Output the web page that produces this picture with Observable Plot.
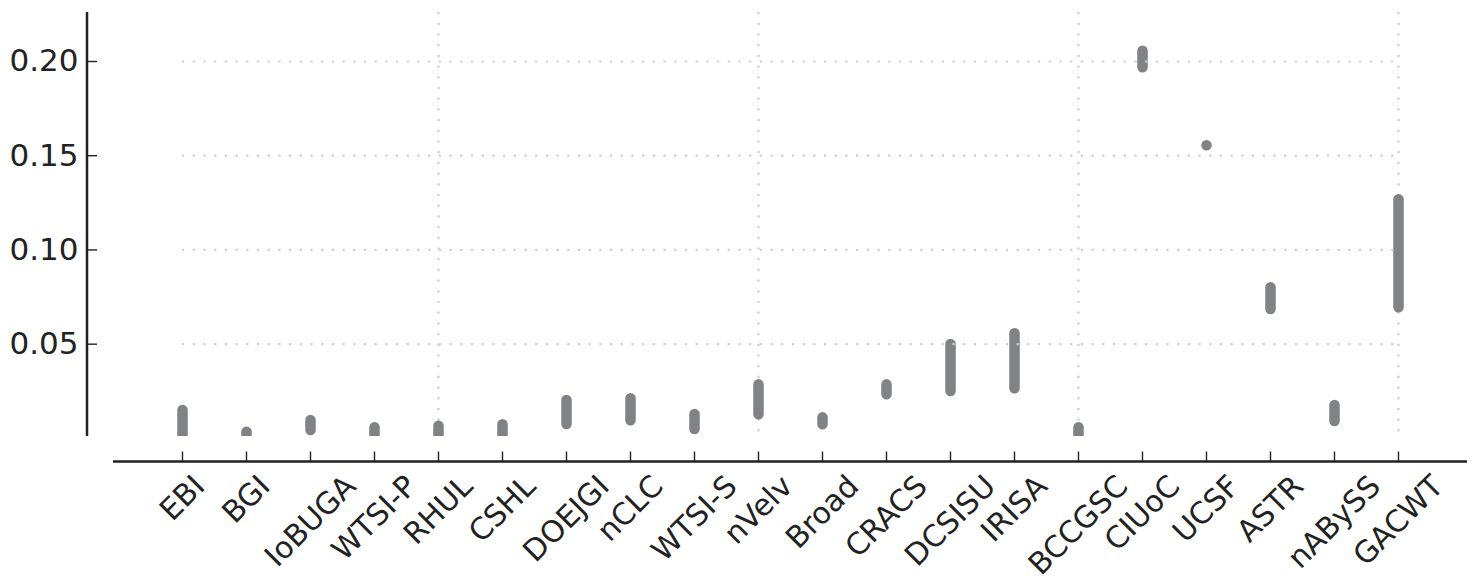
<!DOCTYPE html>
<html>
<head>
<meta charset="utf-8">
<script src="https://cdn.jsdelivr.net/npm/d3@7"></script>
<script src="https://cdn.jsdelivr.net/npm/@observablehq/plot@0.6"></script>
<style>
  html, body { margin: 0; padding: 0; background: #fff; }
</style>
</head>
<body>
<div id="chart"></div>
<script>
// ---- data ----
const teams = ["EBI","BGI","IoBUGA","WTSI-P","RHUL","CSHL","DOEJGI","nCLC","WTSI-S","nVelv","Broad","CRACS","DCSISU","IRISA","BCCGSC","CIUoC","UCSF","ASTR","nABySS","GACWT"];
const lows  = [0.0000,0.0000,0.0042,0.0000,0.0000,0.0000,0.0074,0.0093,0.0047,0.0125,0.0072,0.0231,0.0249,0.0263,0.0000,0.1967,0.1553,0.0684,0.0090,0.0693];
const highs = [0.0148,0.0033,0.0095,0.0056,0.0065,0.0072,0.0201,0.0210,0.0127,0.0284,0.0109,0.0284,0.0498,0.0555,0.0056,0.2055,0.1553,0.0799,0.0175,0.1267];
const yTicks = [0.05, 0.10, 0.15, 0.20];
const xGridTeams = ["RHUL","nVelv","BCCGSC","GACWT"];

const rows = teams.map((t, i) => ({team: t, lo: lows[i], hi: highs[i]}));

// ---- layout ----
const W = 1480, H = 581;
const ML = 113, MR = 13, MT = 12, MB = 145;
const frameW = W - ML - MR, frameH = H - MT - MB;
const ink = "#222222";
const barColor = "#818285";
const gridColor = "#cfcfcf";
const xFont = 30, yFont = 31;
const family = "DejaVu Sans";

const ctx = document.createElement("canvas").getContext("2d");
ctx.font = `${xFont}px "${family}"`;

function axisLines(index, scales, values, dims) {
  const g = d3.create("svg:g").attr("stroke", ink).attr("stroke-width", 2.5).attr("fill", "none");
  g.append("line")
    .attr("x1", dims.marginLeft - 26).attr("x2", dims.marginLeft - 26)
    .attr("y1", dims.marginTop).attr("y2", dims.height - dims.marginBottom);
  g.append("line")
    .attr("x1", dims.marginLeft).attr("x2", dims.width - dims.marginRight)
    .attr("y1", dims.height - dims.marginBottom + 25.5).attr("y2", dims.height - dims.marginBottom + 25.5);
  return g.node();
}

const labelMarks = teams.map(t => {
  const L = ctx.measureText(t).width;
  const dy = 36 + Math.SQRT1_2 * (L / 2 + 0.41 * xFont);
  return Plot.text([t], {
    x: d => d, text: d => d, frameAnchor: "bottom", dy,
    rotate: -45, textAnchor: "middle", lineAnchor: "middle",
    fontSize: xFont, fill: ink
  });
});

const chart = Plot.plot({
  width: W, height: H,
  marginLeft: ML, marginRight: MR, marginTop: MT, marginBottom: MB,
  style: {fontFamily: family, color: ink, background: "#fff", overflow: "visible"},
  x: {type: "point", domain: teams, padding: 1, axis: null},
  y: {domain: [0.001, 0.226], axis: null},
  marks: [
    Plot.ruleX(xGridTeams, {x: d => d, stroke: gridColor, strokeWidth: 2.2, strokeDasharray: "2.2,8.5"}),
    Plot.ruleX(rows, {x: "team", y1: "lo", y2: "hi", stroke: barColor, strokeWidth: 10.5, strokeLinecap: "round", clip: true}),
    Plot.ruleY(yTicks, {y: d => d, x1: () => teams[0], x2: () => teams[teams.length - 1], stroke: gridColor, strokeWidth: 2.2, strokeDasharray: "2.2,8.5"}),
    axisLines,
    Plot.ruleY(yTicks, {y: d => d, insetRight: frameW - 10, dx: -26, stroke: ink, strokeWidth: 1.4}),
    Plot.ruleX(teams, {x: d => d, insetTop: frameH - 10, dy: 25.5, stroke: ink, strokeWidth: 1.4}),
    Plot.axisY({ticks: yTicks, tickFormat: d3.format(".2f"), tickSize: 0, tickPadding: 35, fontSize: yFont, label: null, fill: ink}),
    ...labelMarks
  ]
});
document.getElementById("chart").appendChild(chart);
</script>
</body>
</html>
